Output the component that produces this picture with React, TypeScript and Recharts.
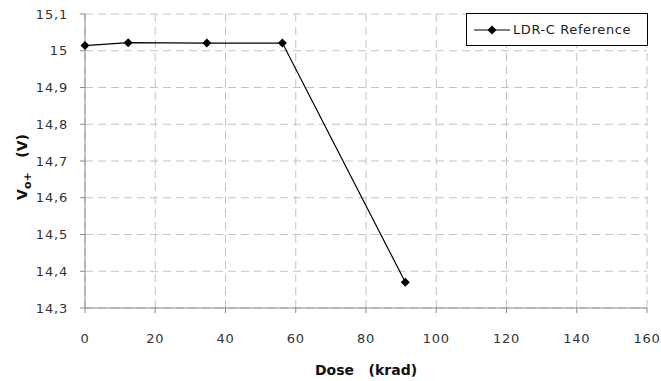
import React from "react";
import { LineChart, Line, XAxis, YAxis, CartesianGrid } from "recharts";

const doses = [0, 12.3, 34.7, 56.2, 91.2];
const vPlus = [15.014, 15.022, 15.021, 15.021, 14.37];
const xTicks = [0, 20, 40, 60, 80, 100, 120, 140, 160];
const yTicks = [14.3, 14.4, 14.5, 14.6, 14.7, 14.8, 14.9, 15.0, 15.1];
const seriesName = "LDR-C Reference";

const data = doses.map((d, i) => ({ dose: d, v: vPlus[i] }));

const FONT = "'DejaVu Sans', Verdana, sans-serif";

const fmtComma = (v: number) =>
  Math.abs(v - Math.round(v)) < 1e-9 ? String(Math.round(v)) : v.toFixed(1).replace(".", ",");

const Diamond = (props: any) => {
  const { cx, cy } = props;
  if (cx == null || cy == null) return null;
  const r = 4.5;
  return <path d={`M${cx},${cy - r}L${cx + r},${cy}L${cx},${cy + r}L${cx - r},${cy}Z`} fill="#000" />;
};

const LegendBox = () => (
  <div
    style={{
      position: "absolute",
      left: 466,
      top: 13,
      border: "1px solid #000",
      background: "#fff",
      width: 182,
      height: 33,
      boxSizing: "border-box",
      display: "flex",
      alignItems: "center",
      fontFamily: FONT,
      fontSize: 13,
      letterSpacing: 0.6,
      color: "#222",
      whiteSpace: "nowrap",
    }}
  >
    <svg width={38} height={12} style={{ marginLeft: 7 }}>
      <line x1={0} y1={6} x2={36} y2={6} stroke="#000" strokeWidth={1} />
      <path d="M18,1.5L22.5,6L18,10.5L13.5,6Z" fill="#000" />
    </svg>
    <span style={{ marginLeft: 1 }}>{seriesName}</span>
  </div>
);

const YLabel = () => (
  <text
    x={0}
    y={0}
    transform="translate(27,167) rotate(-90)"
    textAnchor="middle"
    fontFamily={FONT}
    fontSize={14}
    fontWeight="bold"
    fill="#111"
  >
    V
    <tspan fontSize={11} dy={4}>o+</tspan>
    <tspan dy={-4}>{"\u00a0\u00a0\u00a0(V)"}</tspan>
  </text>
);

const tickStyle = { fill: "#333", fontSize: 13, fontFamily: FONT, letterSpacing: 0.8 };

export default function App() {
  return (
    <div style={{ position: "absolute", left: 0, top: 0, width: 661, height: 381, background: "#fff" }}>
      <LineChart width={661} height={381} data={data} margin={{ top: 14, right: 14, bottom: 0, left: 30 }}>
        <CartesianGrid stroke="#c3c3c3" strokeDasharray="8 5" />
        <XAxis
          dataKey="dose"
          type="number"
          domain={[0, 160]}
          ticks={xTicks}
          interval={0}
          stroke="#8a8a8a"
          tickSize={5}
          tickMargin={21}
          height={73}
          tick={tickStyle}
          label={{
            value: "Dose\u00a0\u00a0\u00a0(krad)",
            position: "insideBottom",
            offset: 6,
            style: { fill: "#111", fontSize: 14, fontWeight: "bold", fontFamily: FONT },
          }}
        />
        <YAxis
          type="number"
          domain={[14.3, 15.1]}
          ticks={yTicks}
          interval={0}
          stroke="#8a8a8a"
          tickSize={5}
          tickMargin={12}
          width={55}
          tickFormatter={fmtComma}
          tick={tickStyle}
        />
        <Line
          type="linear"
          dataKey="v"
          name={seriesName}
          stroke="#000"
          strokeWidth={1.2}
          dot={<Diamond />}
          activeDot={false}
          isAnimationActive={false}
        />
        <YLabel />
      </LineChart>
      <LegendBox />
    </div>
  );
}
